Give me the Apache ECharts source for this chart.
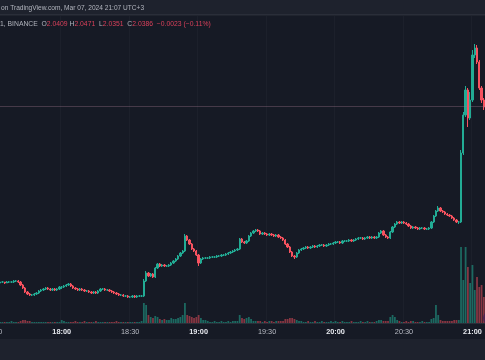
<!DOCTYPE html>
<html><head><meta charset="utf-8">
<script src="https://cdn.jsdelivr.net/npm/echarts@6/dist/echarts.min.js"></script>
<style>html,body{margin:0;padding:0;background:#161a25;overflow:hidden}#c{width:485px;height:360px}</style>
</head><body><div id="c"></div>
<script>
const categories = ("17:30 17:31 17:32 17:33 17:34 17:35 17:36 17:37 17:38 17:39 17:40 17:41 17:42 17:43 17:44 17:45 17:46 17:47 17:48 17:49 17:50 17:51 17:52 17:53 17:54 17:55 17:56 17:57 17:58 17:59 " +
"18:00 18:01 18:02 18:03 18:04 18:05 18:06 18:07 18:08 18:09 18:10 18:11 18:12 18:13 18:14 18:15 18:16 18:17 18:18 18:19 18:20 18:21 18:22 18:23 18:24 18:25 18:26 18:27 18:28 18:29 " +
"18:30 18:31 18:32 18:33 18:34 18:35 18:36 18:37 18:38 18:39 18:40 18:41 18:42 18:43 18:44 18:45 18:46 18:47 18:48 18:49 18:50 18:51 18:52 18:53 18:54 18:55 18:56 18:57 18:58 18:59 " +
"19:00 19:01 19:02 19:03 19:04 19:05 19:06 19:07 19:08 19:09 19:10 19:11 19:12 19:13 19:14 19:15 19:16 19:17 19:18 19:19 19:20 19:21 19:22 19:23 19:24 19:25 19:26 19:27 19:28 19:29 " +
"19:30 19:31 19:32 19:33 19:34 19:35 19:36 19:37 19:38 19:39 19:40 19:41 19:42 19:43 19:44 19:45 19:46 19:47 19:48 19:49 19:50 19:51 19:52 19:53 19:54 19:55 19:56 19:57 19:58 19:59 " +
"20:00 20:01 20:02 20:03 20:04 20:05 20:06 20:07 20:08 20:09 20:10 20:11 20:12 20:13 20:14 20:15 20:16 20:17 20:18 20:19 20:20 20:21 20:22 20:23 20:24 20:25 20:26 20:27 20:28 20:29 " +
"20:30 20:31 20:32 20:33 20:34 20:35 20:36 20:37 20:38 20:39 20:40 20:41 20:42 20:43 20:44 20:45 20:46 20:47 20:48 20:49 20:50 20:51 20:52 20:53 20:54 20:55 20:56 20:57 20:58 20:59 " +
"21:00 21:01 21:02 21:03 21:04 21:05").split(" ");

const tickLabels = ["17:30","18:00","18:30","19:00","19:30","20:00","20:30","21:00"];

const opens = [
1.863,1.864,1.864,1.863,1.864,1.864,1.863,1.864,1.864,1.864,1.865,1.865,
1.864,1.861,1.858,1.854,1.852,1.851,1.851,1.852,1.853,1.855,1.856,1.857,
1.858,1.857,1.856,1.857,1.856,1.857,1.859,1.859,1.860,1.861,1.862,1.860,
1.858,1.857,1.856,1.857,1.856,1.855,1.855,1.854,1.853,1.854,1.853,1.855,
1.857,1.857,1.856,1.856,1.855,1.854,1.853,1.852,1.851,1.851,1.850,1.850,
1.849,1.849,1.850,1.849,1.850,1.850,1.850,1.865,1.873,1.870,1.872,1.869,
1.878,1.882,1.880,1.881,1.880,1.880,1.881,1.883,1.885,1.887,1.890,1.893,
1.895,1.910,1.906,1.902,1.897,1.895,1.891,1.883,1.887,1.888,1.888,1.888,
1.889,1.889,1.889,1.890,1.890,1.891,1.891,1.892,1.893,1.894,1.895,1.896,
1.897,1.907,1.904,1.903,1.905,1.910,1.913,1.915,1.916,1.915,1.912,1.913,
1.912,1.911,1.912,1.911,1.910,1.911,1.909,1.908,1.906,1.902,1.899,1.894,
1.890,1.889,1.893,1.896,1.897,1.898,1.899,1.898,1.899,1.900,1.899,1.900,
1.901,1.901,1.900,1.901,1.902,1.902,1.903,1.904,1.904,1.903,1.905,1.905,
1.905,1.906,1.905,1.906,1.907,1.908,1.908,1.907,1.908,1.909,1.908,1.909,
1.908,1.909,1.913,1.915,1.911,1.909,1.908,1.914,1.919,1.922,1.924,1.923,
1.924,1.923,1.922,1.920,1.918,1.919,1.918,1.917,1.918,1.918,1.917,1.917,
1.918,1.924,1.930,1.935,1.938,1.935,1.934,1.932,1.931,1.930,1.928,1.926,
1.924,1.924,1.993,2.031,2.056,2.028,2.046,2.091,2.098,2.084,2.058,2.046];

const closes = [
1.864,1.864,1.863,1.864,1.864,1.863,1.864,1.864,1.864,1.865,1.865,1.864,
1.861,1.858,1.854,1.852,1.851,1.851,1.852,1.853,1.855,1.856,1.857,1.858,
1.857,1.856,1.857,1.856,1.857,1.859,1.859,1.860,1.861,1.862,1.860,1.858,
1.857,1.856,1.857,1.856,1.855,1.855,1.854,1.853,1.854,1.853,1.855,1.857,
1.857,1.856,1.856,1.855,1.854,1.853,1.852,1.851,1.851,1.850,1.850,1.849,
1.849,1.850,1.849,1.850,1.850,1.850,1.865,1.873,1.870,1.872,1.869,1.878,
1.882,1.880,1.881,1.880,1.880,1.881,1.883,1.885,1.887,1.890,1.893,1.895,
1.910,1.906,1.902,1.897,1.895,1.891,1.883,1.887,1.888,1.888,1.888,1.889,
1.889,1.889,1.890,1.890,1.891,1.891,1.892,1.893,1.894,1.895,1.896,1.897,
1.907,1.904,1.903,1.905,1.910,1.913,1.915,1.916,1.915,1.912,1.913,1.912,
1.911,1.912,1.911,1.910,1.911,1.909,1.908,1.906,1.902,1.899,1.894,1.890,
1.889,1.893,1.896,1.897,1.898,1.899,1.898,1.899,1.900,1.899,1.900,1.901,
1.901,1.900,1.901,1.902,1.902,1.903,1.904,1.904,1.903,1.905,1.905,1.905,
1.906,1.905,1.906,1.907,1.908,1.908,1.907,1.908,1.909,1.908,1.909,1.908,
1.909,1.913,1.915,1.911,1.909,1.908,1.914,1.919,1.922,1.924,1.923,1.924,
1.923,1.922,1.920,1.918,1.919,1.918,1.917,1.918,1.918,1.917,1.917,1.918,
1.924,1.930,1.935,1.938,1.935,1.934,1.932,1.931,1.930,1.928,1.926,1.924,
1.924,1.993,2.031,2.056,2.028,2.046,2.091,2.098,2.084,2.058,2.046,2.039];

const highs = [
1.865,1.865,1.865,1.865,1.865,1.864,1.865,1.865,1.865,1.866,1.866,1.866,
1.865,1.862,1.859,1.855,1.853,1.852,1.853,1.854,1.856,1.857,1.858,1.859,
1.859,1.858,1.858,1.858,1.858,1.860,1.860,1.861,1.862,1.863,1.863,1.861,
1.859,1.858,1.858,1.858,1.857,1.856,1.856,1.855,1.855,1.855,1.856,1.858,
1.858,1.858,1.857,1.857,1.856,1.855,1.854,1.853,1.852,1.852,1.851,1.851,
1.850,1.851,1.851,1.851,1.851,1.851,1.867,1.875,1.874,1.873,1.873,1.879,
1.883,1.883,1.882,1.882,1.881,1.882,1.884,1.886,1.888,1.891,1.894,1.896,
1.912,1.911,1.907,1.903,1.898,1.896,1.892,1.888,1.889,1.889,1.889,1.890,
1.890,1.890,1.891,1.891,1.892,1.892,1.893,1.894,1.895,1.896,1.897,1.898,
1.908,1.908,1.905,1.906,1.911,1.914,1.916,1.917,1.917,1.916,1.914,1.914,
1.913,1.913,1.913,1.912,1.912,1.912,1.910,1.909,1.907,1.903,1.900,1.895,
1.891,1.894,1.897,1.898,1.899,1.900,1.900,1.900,1.901,1.901,1.901,1.902,
1.902,1.902,1.902,1.903,1.903,1.904,1.905,1.905,1.905,1.906,1.906,1.906,
1.907,1.907,1.907,1.908,1.909,1.909,1.909,1.909,1.910,1.910,1.910,1.910,
1.910,1.914,1.916,1.916,1.912,1.910,1.915,1.920,1.923,1.925,1.925,1.925,
1.925,1.924,1.923,1.921,1.920,1.920,1.919,1.919,1.919,1.919,1.918,1.919,
1.925,1.931,1.936,1.940,1.939,1.936,1.935,1.933,1.932,1.931,1.929,1.927,
1.925,1.996,2.034,2.060,2.058,2.054,2.096,2.102,2.101,2.086,2.060,2.048];

const lows = [
1.862,1.863,1.862,1.862,1.863,1.862,1.863,1.863,1.863,1.863,1.864,1.863,
1.860,1.857,1.853,1.851,1.850,1.850,1.850,1.851,1.852,1.854,1.855,1.856,
1.856,1.855,1.855,1.855,1.855,1.856,1.857,1.858,1.859,1.860,1.859,1.857,
1.856,1.855,1.855,1.855,1.854,1.854,1.853,1.852,1.852,1.852,1.852,1.854,
1.856,1.855,1.855,1.854,1.853,1.852,1.851,1.850,1.850,1.849,1.849,1.848,
1.848,1.848,1.848,1.848,1.849,1.849,1.849,1.864,1.869,1.869,1.868,1.868,
1.877,1.879,1.879,1.879,1.879,1.879,1.880,1.882,1.884,1.886,1.889,1.892,
1.894,1.905,1.901,1.896,1.894,1.890,1.880,1.882,1.886,1.887,1.887,1.887,
1.888,1.888,1.888,1.889,1.889,1.890,1.890,1.891,1.892,1.893,1.894,1.895,
1.896,1.903,1.902,1.902,1.904,1.909,1.912,1.914,1.914,1.911,1.911,1.911,
1.910,1.910,1.910,1.909,1.909,1.908,1.907,1.905,1.901,1.898,1.893,1.889,
1.887,1.888,1.892,1.895,1.896,1.897,1.897,1.897,1.898,1.898,1.898,1.899,
1.900,1.899,1.899,1.900,1.901,1.901,1.902,1.903,1.902,1.902,1.904,1.904,
1.904,1.904,1.904,1.905,1.906,1.907,1.906,1.906,1.907,1.907,1.907,1.907,
1.907,1.908,1.912,1.910,1.908,1.907,1.907,1.913,1.918,1.921,1.922,1.922,
1.922,1.921,1.919,1.917,1.917,1.917,1.916,1.916,1.917,1.916,1.916,1.916,
1.917,1.923,1.929,1.934,1.934,1.933,1.931,1.930,1.929,1.927,1.925,1.923,
1.922,1.923,1.991,2.029,2.019,2.026,2.044,2.088,2.082,2.056,2.043,2.036];

// volume in thousands
const volumes = [
1,1,2,1,1,1,1,1,2,1,1,1,
2,3,3,2,2,1,1,1,1,1,1,1,
1,1,1,1,1,1,3,2,1,1,1,1,
2,1,1,1,2,1,1,1,1,2,1,1,
1,1,1,1,1,1,2,1,1,1,1,1,
1,1,1,1,1,2,20,18,8,6,5,7,
6,4,3,4,3,3,5,4,4,5,6,8,
20,8,7,6,5,6,8,5,3,3,2,1,
1,2,1,1,2,1,1,2,1,2,2,2,
8,5,4,5,6,4,2,2,2,2,1,2,
1,2,2,1,2,2,2,2,4,4,5,5,
4,3,2,2,1,1,2,1,1,2,1,1,
2,1,1,1,2,1,2,1,1,2,1,1,
1,2,1,1,1,2,1,1,2,1,1,1,
2,3,3,2,2,2,6,8,6,3,2,1,
1,2,1,2,2,1,1,1,2,1,1,1,
4,5,18,8,3,2,2,2,2,2,3,3,
3,76,43,76,56,40,58,33,46,36,38,26];

const lastClose = 2.039;

const UP = '#22ab94', DOWN = '#f7525f';
const UPV = 'rgba(34,171,148,0.55)', DOWNV = 'rgba(247,82,95,0.5)';

const candleData = opens.map((o, i) => [o, closes[i], lows[i], highs[i]]);
const volData = volumes.map((v, i) => ({
  value: v,
  itemStyle: { color: closes[i] >= opens[i] ? UPV : DOWNV }
}));

const isTick = (idx, val) => tickLabels.indexOf(val) >= 0;
const FONT = '"Liberation Sans", Arial, sans-serif';

const chart = echarts.init(document.getElementById('c'), null, { renderer: 'canvas' });
chart.setOption({
  animation: false,
  backgroundColor: '#161a25',
  grid: [
    { left: -7.9, right: 0, top: 16, bottom: 37, containLabel: false, outerBoundsMode: 'none' },
    { left: -7.9, right: 0, top: 240, bottom: 37, containLabel: false, outerBoundsMode: 'none' }
  ],
  xAxis: [
    { type: 'category', gridIndex: 0, data: categories, boundaryGap: true,
      axisLine: { show: false }, axisTick: { show: false }, axisLabel: { show: false },
      splitLine: { show: true, interval: isTick, lineStyle: { color: '#1c202b', width: 1 } } },
    { type: 'category', gridIndex: 1, data: categories, boundaryGap: true,
      axisLine: { show: true, lineStyle: { color: '#2a2e39', width: 1 } },
      axisTick: { show: false },
      splitLine: { show: false },
      axisLabel: { show: true, interval: isTick, margin: 5, hideOverlap: false,
        formatter: v => v.endsWith(':00') ? '{b|' + v + '}' : '{n|' + v + '}',
        rich: {
          b: { color: '#e6e8ee', fontSize: 7.3, fontWeight: 'bold', fontFamily: FONT },
          n: { color: '#b8bbc4', fontSize: 7.3, fontFamily: FONT }
        } } }
  ],
  yAxis: [
    { type: 'value', gridIndex: 0, min: 1.823, max: 2.130, show: false, splitLine: { show: false } },
    { type: 'value', gridIndex: 1, min: 0, max: 83, show: false, splitLine: { show: false } }
  ],
  graphic: [
    { type: 'rect', z: -10, shape: { x: 0, y: 0, width: 485, height: 14 }, style: { fill: '#1e222d' } },
    { type: 'rect', z: -9, shape: { x: 0, y: 14, width: 485, height: 1.5 }, style: { fill: '#2a2e39' } },
    { type: 'rect', z: -10, shape: { x: 0, y: 339, width: 485, height: 21 }, style: { fill: '#1e222d' } },
    { type: 'circle', z: 50, shape: { cx: 490, cy: 318, r: 7 }, style: { fill: '#4d2452' } },
    { type: 'text', z: 100, x: 1, y: 8,
      style: { text: 'on TradingView.com, Mar 07, 2024 21:07 UTC+3', fill: '#b2b5be',
        fontSize: 6.6, fontFamily: FONT, verticalAlign: 'middle' } },
    { type: 'text', z: 100, x: 0, y: 24,
      style: { text: '{g|1, BINANCE  O}{r|2.0409}{g| H}{r|2.0471}{g|  L}{r|2.0351}{g|  C}{r|2.0386}{r|  \u22120.0023 (\u22120.11%)}',
        verticalAlign: 'middle', fontSize: 6.8, fontFamily: FONT,
        rich: {
          g: { fill: '#b2b5be', fontSize: 6.8, fontFamily: FONT },
          r: { fill: '#d8405a', fontSize: 6.8, fontFamily: FONT }
        } } }
  ],
  series: [
    { name: 'Price', type: 'candlestick', xAxisIndex: 0, yAxisIndex: 0,
      data: candleData, barWidth: '78%',
      itemStyle: { color: UP, color0: DOWN, borderColor: UP, borderColor0: DOWN, borderWidth: 1 },
      markLine: { silent: true, symbol: 'none', label: { show: false },
        lineStyle: { color: 'rgba(160,120,140,0.35)', type: 'solid', width: 1 },
        data: [{ yAxis: lastClose }] } },
    { name: 'Volume', type: 'bar', xAxisIndex: 1, yAxisIndex: 1,
      data: volData, barWidth: '78%', z: 1 }
  ]
});
</script>
</body></html>
